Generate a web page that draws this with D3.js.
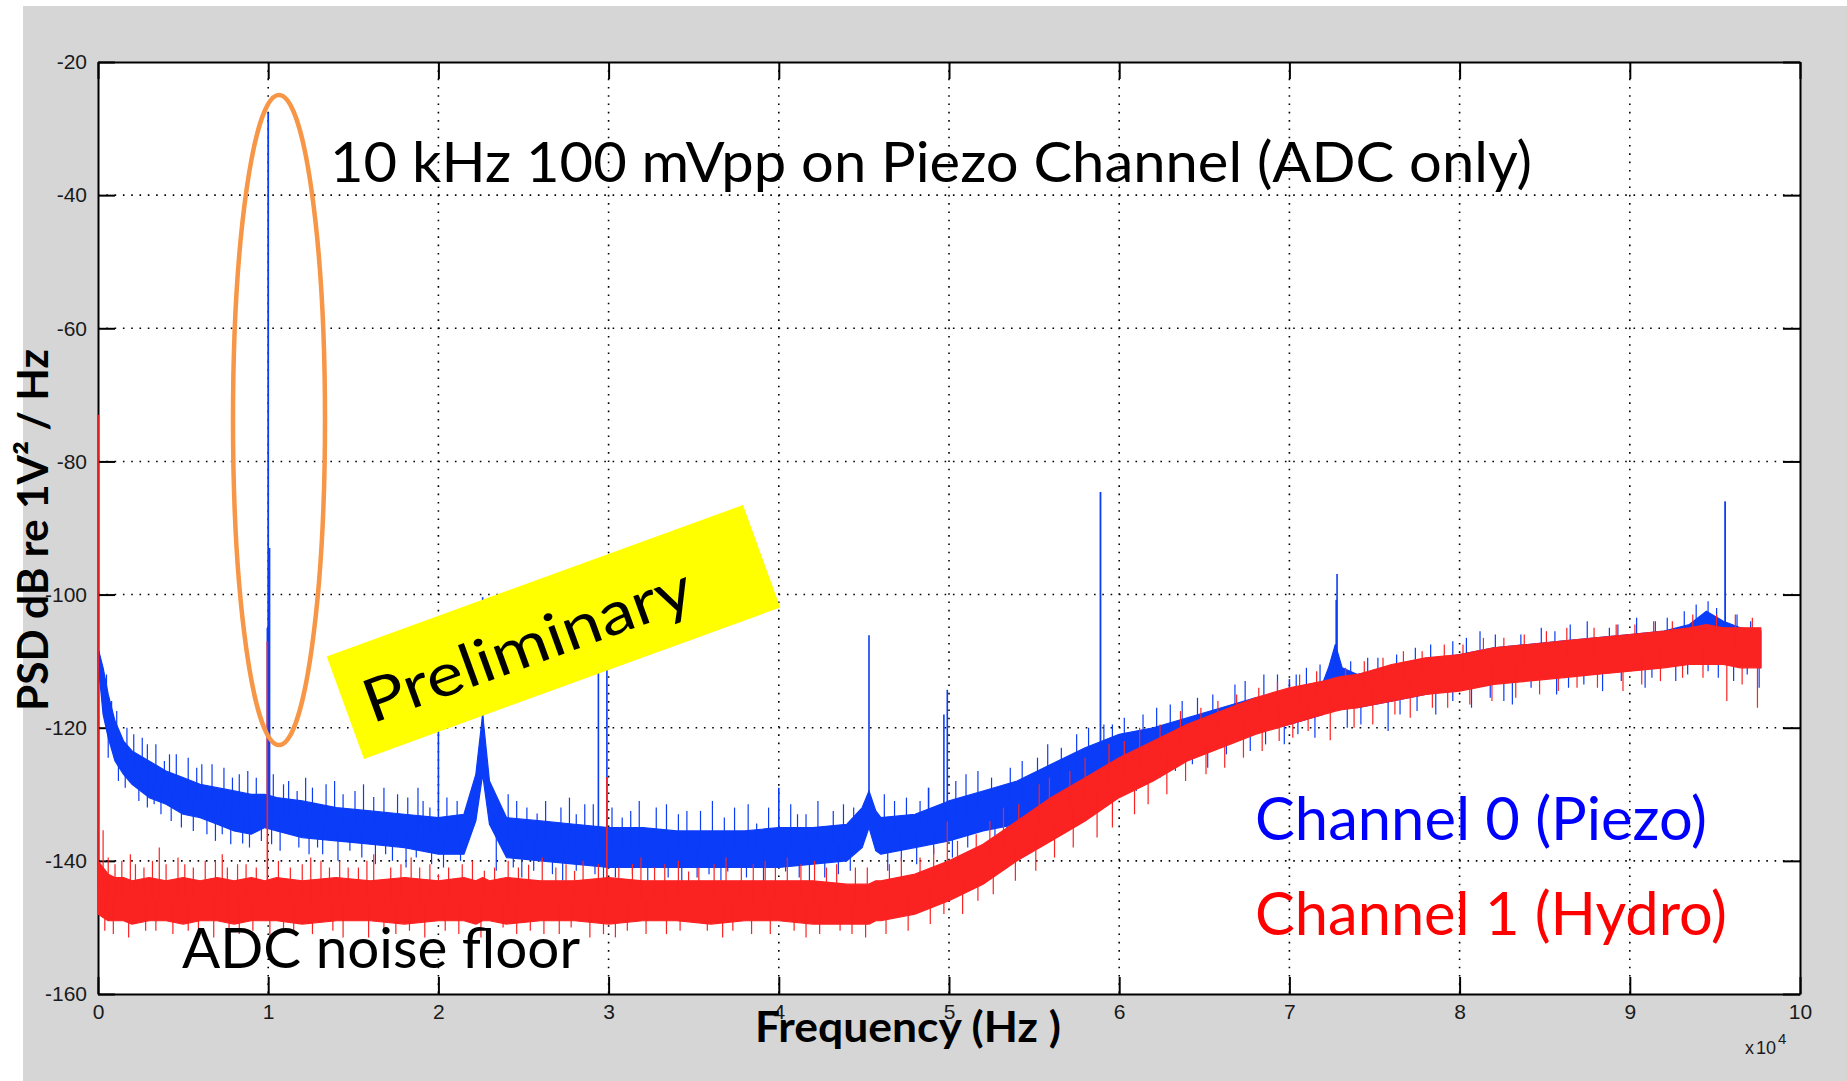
<!DOCTYPE html>
<html>
<head>
<meta charset="utf-8">
<script src="https://cdn.jsdelivr.net/npm/d3@7"></script>
<style>
  html, body { margin: 0; padding: 0; background: #ffffff; }
  svg { display: block; }
</style>
</head>
<body>
<svg id="chart" width="1847" height="1081"></svg>
<script>
// Frequency grid (kHz) on which the dense noise band of each channel is described
const freqKHz = [0, 0.3, 0.6, 1, 1.5, 2, 3, 4, 5, 6, 7, 8, 9, 9.8, 10.5, 12, 14, 16, 18, 20,
  21.5, 22.2, 22.6, 23, 24, 26, 28, 30, 32, 34, 36, 38, 40, 42, 44, 44.9, 45.3, 45.7, 46, 48,
  50, 52, 54, 56, 58, 60, 62, 64, 66, 68, 70, 72, 72.3, 72.7, 73.1, 74, 76, 78, 80, 82,
  84, 86, 88, 90, 92, 93.5, 94.5, 95.5, 96.5, 97.7];

// Channel 0 (Piezo): top and bottom of the noise band, dB re 1V^2/Hz
const piezoUpper = [-108, -111, -115, -119, -122, -123.5, -125, -126.5, -127.5, -128.5, -129, -129.5, -130, -130, -130.5, -131, -132, -132.5, -133, -133.5,
  -133, -127, -118, -128, -133.5, -134, -134.5, -135, -135, -135.5, -135.5, -135.5, -135, -135, -134.5, -132, -129.5, -132.5, -133.5, -133,
  -131, -129.5, -128, -125.5, -123, -121, -120, -118.5, -117, -115.5, -114.5, -113, -111, -107.5, -111, -112, -111, -110, -109, -108,
  -107.5, -107, -106.5, -106, -105.5, -104.5, -102.5, -104, -105, -105.5];
const piezoLower = [-110, -118, -121.5, -125, -127, -128.5, -130.5, -131.5, -133, -133.5, -134.5, -135.5, -136, -135, -135.5, -136.5, -137, -137.5, -138, -139,
  -139, -134, -127, -134.5, -139.5, -140, -140.5, -141, -141, -141, -141, -141, -141, -140.5, -140, -138, -135, -138.5, -139, -138,
  -137, -135.5, -134.5, -133, -130, -127, -125, -123, -122, -120.5, -119.5, -118, -117, -115, -117, -117, -116, -115, -114, -113,
  -112.5, -112, -111.5, -111, -110.5, -110, -109, -109.5, -110, -111];

// Channel 1 (Hydro): top and bottom of the noise band
const hydroUpper = [-140, -141, -142, -142.5, -142.5, -143, -142.5, -143, -142.5, -143, -142.5, -143, -142.5, -143, -142.5, -143, -142.5, -143, -142.5, -143,
  -142.5, -143, -142.5, -143, -142.5, -143, -143, -142.5, -143, -143, -143, -143, -143, -143, -143.5, -143.5, -143.5, -143, -143, -142,
  -140, -137.5, -134, -130.5, -127.5, -124.5, -122, -119.5, -117.5, -115.5, -114, -113, -112.8, -112.5, -112.3, -112, -110.5, -109.5, -109, -108,
  -107.5, -107, -106.5, -106, -105.5, -105, -104.5, -105, -105, -105];
const hydroLower = [-148, -148.5, -149, -149, -149, -149.5, -149, -149, -149.5, -149, -149, -149.5, -149, -149, -149, -149.5, -149, -149, -149.5, -149,
  -149, -149.5, -149, -149, -149.5, -149, -149, -149.5, -149, -149, -149.5, -149, -149, -149.5, -149.5, -149.5, -149.5, -149, -149, -148,
  -146, -143.5, -140, -137, -134, -130.5, -128, -125, -123, -121, -119.5, -118, -117.8, -117.5, -117.3, -117, -116, -115, -114.5, -113.5,
  -113, -112.5, -112, -111.5, -111, -110.5, -110.5, -110.5, -111, -111];

// Discrete tones [kHz, peak dB]
const piezoTones = [[9.95, -105], [10.0, -27.6], [10.08, -93], [20.0, -110], [22.6, -100.4], [29.4, -108], [29.9, -108],
  [40.0, -129], [45.3, -106.1], [48.8, -129], [49.7, -118], [49.9, -114.3], [58.9, -84.6], [70.0, -112.7],
  [72.75, -100.8], [72.8, -96.9], [95.6, -86]];
const hydroTones = [[0, -73], [9.95, -107], [29.9, -127.4]];

// Noise excursions beyond the band [kHz, dB]
const piezoNoiseUp = [[0.8, -116], [1.7, -120], [2.6, -121.5], [3.4, -122.5], [4.2, -124], [5.3, -124.5], [6.1, -125.5], [7.4, -126],
  [8.3, -127], [9.3, -127.5], [11.2, -128], [12.6, -129], [13.4, -128.5], [15.1, -129.5], [16.2, -130.4], [17.6, -130], [19.1, -131],
  [24.6, -131], [25.8, -132.9], [27.2, -132], [28.6, -131.5], [31.3, -132.5], [32.8, -132], [34.1, -133], [35.4, -132.5], [36.8, -133.5],
  [38.7, -134.4], [39.4, -132], [41.6, -133], [43.2, -132.5], [46.8, -131], [51, -127], [53.6, -126], [55.2, -124.5],
  [57.5, -121], [59.6, -119.5], [61.4, -118], [63, -116.5], [66.8, -113.5], [68.5, -112], [71, -111], [75.2, -109.5], [77.4, -108],
  [79.6, -107], [81.2, -105.5], [83.6, -106], [86.5, -104.5], [89.3, -104.5], [91.5, -104], [93.9, -101.5], [94.6, -101],
  [0.5, -112], [1.1, -117.5], [2.1, -121], [2.9, -122.5], [3.9, -125], [4.6, -124], [5.8, -126], [6.7, -125.5], [7.9, -127.5],
  [8.8, -126.5], [10.3, -127], [10.9, -128.5], [11.7, -129.5], [12.2, -127.5], [13.9, -128], [14.4, -130], [15.6, -128.5], [16.8, -129],
  [18.2, -130.5], [18.8, -129], [19.5, -132], [20.5, -130.5], [21.1, -131], [23.6, -131.5], [24.1, -130], [25.2, -132], [26.3, -131],
  [27.7, -130.5], [28.1, -133], [29.1, -131.5], [30.2, -132], [30.8, -133.5], [31.8, -131], [33.4, -131.5], [34.6, -132.5], [36.1, -131],
  [37.4, -132], [38.2, -131.5], [40.7, -131.5], [41.1, -133], [42.3, -131], [43.8, -131.5], [44.4, -132], [46.2, -130], [47.5, -130.5],
  [48.3, -131], [50.4, -128], [51.7, -126.5], [52.5, -127.5], [54.3, -125], [55.8, -122.5], [56.6, -123], [58.2, -120], [59.1, -119.5],
  [60.3, -118.5], [62.2, -117], [63.7, -116], [64.6, -115.5], [65.5, -115], [67.4, -113], [69.3, -112], [70.4, -112], [71.8, -110.5],
  [73.6, -110], [74.6, -109.5], [76.3, -109], [78.3, -107.5], [80.4, -106.5], [82.1, -106], [84.8, -105], [85.6, -105.5], [87.5, -104],
  [88.8, -105], [90.4, -103.5], [92.2, -103.5], [93.2, -102.5], [95.1, -102], [96.3, -103], [97.1, -104]];
const piezoNoiseDown = [[1.2, -128], [2.4, -131], [3.7, -133], [4.9, -135], [6.4, -136], [7.8, -137.5], [8.5, -137.4], [9.6, -137],
  [11.8, -138], [13.2, -139], [15.5, -139.5], [17.3, -140], [19.6, -140.5], [24.4, -141], [26.7, -142], [28.1, -141.5], [30.4, -142.5],
  [33.5, -142.5], [35.9, -142], [37, -141.6], [40.4, -141.6], [42.7, -142.5], [47.2, -140], [49.1, -139], [52.7, -137.5], [55.6, -136],
  [57.2, -133], [59.1, -132], [61.6, -128.5], [63.3, -126.5], [65.2, -126], [67.7, -123.5], [69.7, -122.5], [73.4, -120], [75.8, -120.5],
  [78.6, -118], [80.7, -117], [83.1, -116.5], [85.7, -115], [88.4, -114.5], [90.9, -114], [92.7, -113], [95.2, -112.5], [97.6, -114],
  [0.6, -124.5], [1.6, -129], [2.9, -132], [3.3, -131.5], [4.3, -134], [5.6, -135.5], [6.9, -137], [7.3, -136], [8.9, -138],
  [10.2, -137.5], [10.7, -138.5], [12.4, -139], [12.9, -138], [14.1, -140], [14.8, -138.5], [16.3, -140.5], [16.9, -139], [18.1, -141],
  [18.7, -139.5], [20.3, -141], [21.3, -140], [23.4, -141.5], [24.9, -142.5], [25.6, -141.5], [27.3, -143], [29.2, -142], [29.7, -143.5],
  [31.4, -142], [32.3, -143], [34.3, -143.5], [35.2, -142.5], [36.6, -143], [38.1, -142.5], [39.1, -143.5], [41.2, -142.5], [41.8, -143],
  [43.5, -142], [44.2, -141.5], [46.4, -141.5], [48.1, -140.5], [50.2, -139.5], [51.1, -138], [53.4, -137.5], [54.6, -136.5], [56.4, -135],
  [58.4, -132.5], [60.1, -130], [61.0, -129.5], [62.4, -127.5], [64.3, -125.5], [66.3, -124], [68.6, -122.5], [70.5, -121], [71.5, -121.5],
  [74.2, -119.5], [76.5, -118], [77.5, -117.5], [79.6, -116], [81.8, -115.5], [82.6, -116], [84.2, -114], [86.4, -114], [87.3, -113.5],
  [89.5, -113], [91.3, -112.5], [93.4, -112], [94.6, -111.5], [96.1, -113], [96.9, -112]];
const hydroNoiseUp = [[0.3, -135.4], [1.4, -140], [2.2, -140.5], [3.6, -138], [5.1, -140.5], [6.3, -140], [7.6, -141], [8.7, -140.5],
  [12, -140.5], [13.1, -140], [14.7, -141], [16.2, -139], [17.8, -140.5], [18.9, -141], [20, -142], [21.4, -140.5], [23.3, -141],
  [25.3, -140.6], [26.9, -141], [28.5, -140], [31.4, -140.5], [32.7, -141], [34.7, -141.6], [36.2, -140.5], [37.8, -141], [39.2, -140],
  [41.3, -140.5], [42.8, -141], [44.5, -141], [46.5, -140.5], [48.3, -139.5], [49.9, -134.1], [51.6, -136], [53.2, -132], [55.3, -128.5],
  [57.1, -126.5], [59.4, -122.5], [61.2, -120], [63.6, -117.5], [65.8, -116], [68.2, -114], [70.6, -112], [73.3, -111], [75.5, -109.5],
  [77.8, -108.5], [80.2, -107.5], [82.6, -106.5], [85.1, -105.5], [87.9, -105], [90.3, -104.5], [92.5, -104], [95.1, -103], [97.2, -103.5],
  [0.6, -139.5], [1.0, -140.5], [1.9, -139], [2.7, -141], [3.2, -140], [4.0, -140.5], [4.7, -139.5], [5.6, -141], [6.9, -140],
  [7.3, -139], [8.2, -140.5], [9.3, -141], [10.6, -140], [11.3, -141], [12.5, -139.5], [13.6, -141], [14.2, -140], [15.3, -141],
  [15.8, -140], [17.2, -141], [18.4, -139.5], [19.5, -140.5], [20.6, -141], [22.0, -140], [22.7, -141.5], [24.1, -140], [24.7, -141],
  [26.1, -139.5], [27.5, -140.5], [28.0, -141.5], [29.4, -140.5], [30.6, -141], [31.9, -139.5], [33.3, -140.5], [34.1, -140], [35.3, -141],
  [36.9, -139.5], [38.5, -140.5], [39.8, -141], [40.5, -139.5], [42.1, -140], [43.4, -140.5], [45.2, -141], [47.2, -139.5], [49.1, -138],
  [50.5, -137], [52.4, -134], [54.1, -131.5], [55.9, -127.5], [58.0, -124.5], [60.3, -122], [62.4, -119.5], [64.8, -117], [66.9, -115],
  [69.3, -113], [71.6, -111.5], [74.4, -110], [76.7, -108.5], [79.1, -107.5], [81.4, -106.5], [83.8, -106], [86.3, -105], [89.2, -104.5],
  [91.4, -104], [93.7, -103], [96.2, -103]];
const hydroNoiseDown = [[0.9, -151], [2.8, -150.5], [4.4, -151], [6.8, -151.5], [9.1, -150.5], [11.5, -151], [13.8, -150.5], [15.9, -151.5],
  [18.3, -150.5], [21.2, -151], [23.8, -150], [26.2, -151], [28.9, -151.5], [31.1, -150.5], [33.4, -151], [35.8, -150.5], [38.4, -151],
  [40.9, -150.5], [42.4, -151], [45.1, -151.5], [47.6, -150.5], [50.8, -148], [53.9, -143], [56.2, -139.5], [58.7, -136.5], [60.9, -133],
  [62.8, -130], [65.1, -127], [67.3, -124.5], [69.4, -122], [72.4, -121.9], [74.9, -119.5], [77.1, -118.5], [79.3, -117], [81.9, -116],
  [84.7, -115], [86.9, -114], [89.6, -114.5], [91.8, -113], [94.3, -112.5], [95.7, -116], [97.5, -117],
  [0.4, -150.5], [1.8, -151.5], [3.4, -150.5], [5.3, -150.5], [5.9, -151.5], [7.7, -150.5], [8.3, -151], [10.1, -151.5], [10.9, -150.5],
  [12.6, -151], [14.4, -151.5], [16.8, -150.5], [17.5, -151], [19.2, -151.5], [20.4, -150.5], [22.5, -151.5], [24.6, -151], [25.4, -150.5],
  [27.1, -151], [27.8, -150], [29.7, -151], [30.4, -151.5], [32.2, -151], [34.2, -150.5], [36.7, -151.5], [37.3, -150.5], [39.5, -151],
  [41.6, -151.5], [43.6, -150.5], [44.3, -151], [46.3, -151], [48.9, -149.5], [49.7, -148], [51.7, -146], [52.6, -145], [55.1, -141.5],
  [57.3, -138], [59.6, -135], [61.7, -131.5], [63.9, -128], [66.2, -126], [68.4, -123.5], [70.2, -121.5], [71.1, -120.5], [73.8, -120],
  [76.2, -118], [78.4, -117], [80.6, -116.5], [83.3, -115.5], [85.8, -114.5], [88.1, -114], [90.7, -113.5], [93.1, -112.5], [96.6, -113.5]];

// Axis ticks: frequency labels are in units of 10^4 Hz
const xTickLabels = [0, 1, 2, 3, 4, 5, 6, 7, 8, 9, 10];
const yTickValues = [-20, -40, -60, -80, -100, -120, -140, -160];

const svg = d3.select('#chart');
const W = 1847, H = 1081;
const plot = { left: 98, top: 62, right: 1800, bottom: 994 };

const x = d3.scaleLinear().domain([0, 100]).range([plot.left, plot.right]);   // kHz
const y = d3.scaleLinear().domain([-160, -20]).range([plot.bottom, plot.top]); // dB

const BLUE = '#0b3cf7', RED = '#fb2222';
const TEXT_FONT = "Lato, 'Open Sans', sans-serif";
const TICK_FONT = "'Liberation Sans', Arial, sans-serif";

// figure background
svg.append('rect').attr('x', 0).attr('y', 0).attr('width', W).attr('height', H).attr('fill', '#ffffff');
svg.append('rect').attr('x', 23).attr('y', 6).attr('width', W - 23).attr('height', H - 6).attr('fill', '#d6d6d6');
svg.append('rect').attr('x', plot.left).attr('y', plot.top)
  .attr('width', plot.right - plot.left).attr('height', plot.bottom - plot.top).attr('fill', '#ffffff');

// dotted grid
const grid = svg.append('g').attr('stroke', '#000').attr('stroke-width', 1.6).attr('stroke-dasharray', '1.6,6.7');
grid.selectAll('line.vx').data(xTickLabels.filter(v => v > 0 && v < 10)).join('line')
  .attr('x1', d => x(d * 10)).attr('x2', d => x(d * 10)).attr('y1', plot.top).attr('y2', plot.bottom);
grid.selectAll('line.hy').data(yTickValues.filter(v => v > -160 && v < -20)).join('line')
  .attr('y1', d => y(d)).attr('y2', d => y(d)).attr('x1', plot.left).attr('x2', plot.right);

// axes with inward ticks on all four sides
function styleAxis(g) {
  g.select('.domain').attr('stroke', '#000').attr('stroke-width', 2);
  g.selectAll('.tick line').attr('stroke', '#000').attr('stroke-width', 2);
  g.selectAll('.tick text').attr('font-family', TICK_FONT).attr('font-size', 21).attr('fill', '#1a1a1a');
}
const xAxisBottom = d3.axisBottom(x).tickValues(xTickLabels.map(v => v * 10))
  .tickFormat(d => String(d / 10)).tickSizeInner(-17).tickSizeOuter(0).tickPadding(10);
const xAxisTop = d3.axisTop(x).tickValues(xTickLabels.map(v => v * 10))
  .tickFormat('').tickSizeInner(-17).tickSizeOuter(0);
const yAxisLeft = d3.axisLeft(y).tickValues(yTickValues)
  .tickFormat(d => String(d)).tickSizeInner(-17).tickSizeOuter(0).tickPadding(11);
const yAxisRight = d3.axisRight(y).tickValues(yTickValues)
  .tickFormat('').tickSizeInner(-17).tickSizeOuter(0);

svg.append('g').attr('transform', `translate(0,${plot.bottom})`).call(xAxisBottom).call(styleAxis);
svg.append('g').attr('transform', `translate(0,${plot.top})`).call(xAxisTop).call(styleAxis);
svg.append('g').attr('transform', `translate(${plot.left},0)`).call(yAxisLeft).call(styleAxis);
svg.append('g').attr('transform', `translate(${plot.right},0)`).call(yAxisRight).call(styleAxis);

// spectra
svg.append('defs').append('clipPath').attr('id', 'plotClip').append('rect')
  .attr('x', plot.left - 2).attr('y', plot.top).attr('width', plot.right - plot.left + 2).attr('height', plot.bottom - plot.top);
const dataLayer = svg.append('g').attr('clip-path', 'url(#plotClip)');

function drawChannel(upper, lower, tones, noiseUp, noiseDown, color) {
  const rows = freqKHz.map((f, i) => ({ f, hi: upper[i], lo: lower[i] }));
  const mid = d3.scaleLinear().domain(freqKHz).range(rows.map(r => (r.hi + r.lo) / 2));
  const g = dataLayer.append('g');
  g.append('path').datum(rows)
    .attr('d', d3.area().x(d => x(d.f)).y0(d => y(d.lo)).y1(d => y(d.hi)))
    .attr('fill', color).attr('stroke', color).attr('stroke-width', 1.2).attr('stroke-linejoin', 'round');
  const spikes = [...noiseUp, ...noiseDown];
  g.selectAll('line.noise').data(spikes).join('line')
    .attr('x1', d => x(d[0])).attr('x2', d => x(d[0]))
    .attr('y1', d => y(d[1])).attr('y2', d => y(mid(d[0])))
    .attr('stroke', color).attr('stroke-width', 1.2);
  g.selectAll('line.tone').data(tones).join('line')
    .attr('x1', d => x(d[0])).attr('x2', d => x(d[0]))
    .attr('y1', d => y(d[1])).attr('y2', d => y(mid(d[0])))
    .attr('stroke', color).attr('stroke-width', d => d[1] > -90 ? 1.8 : 1.6);
}
drawChannel(piezoUpper, piezoLower, piezoTones, piezoNoiseUp, piezoNoiseDown, BLUE);
drawChannel(hydroUpper, hydroLower, hydroTones, hydroNoiseUp, hydroNoiseDown, RED);

// axis titles
svg.append('text').attr('transform', 'translate(48,530) rotate(-90)')
  .attr('text-anchor', 'middle').attr('font-family', TEXT_FONT).attr('font-weight', 700)
  .attr('font-size', 42).attr('fill', '#000').attr('textLength', 362).attr('lengthAdjust', 'spacingAndGlyphs')
  .text('PSD dB re 1V² / Hz');
svg.append('text').attr('x', 908).attr('y', 1042)
  .attr('text-anchor', 'middle').attr('font-family', TEXT_FONT).attr('font-weight', 700)
  .attr('font-size', 42).attr('fill', '#000').attr('textLength', 306).attr('lengthAdjust', 'spacingAndGlyphs')
  .text('Frequency (Hz )');

// exponent of the frequency axis
const expo = svg.append('text').attr('x', 1745).attr('y', 1054)
  .attr('font-family', TICK_FONT).attr('font-size', 18).attr('fill', '#1a1a1a');
expo.append('tspan').text('x');
expo.append('tspan').attr('dx', 2).text('10');
expo.append('tspan').attr('font-size', 15).attr('dx', 2).attr('dy', -10).text('4');

// annotations
svg.append('ellipse').attr('cx', 279).attr('cy', 420).attr('rx', 46).attr('ry', 325)
  .attr('fill', 'none').attr('stroke', '#f79646').attr('stroke-width', 4.5);

svg.append('text').attr('x', 330).attr('y', 182)
  .attr('font-family', TEXT_FONT).attr('font-size', 57).attr('fill', '#000')
  .attr('textLength', 1202).attr('lengthAdjust', 'spacingAndGlyphs')
  .text('10 kHz 100 mVpp on Piezo Channel (ADC only)');

const stamp = svg.append('g').attr('transform', 'translate(553.5,632) rotate(-20)');
stamp.append('rect').attr('x', -221.5).attr('y', -54.5).attr('width', 443).attr('height', 109).attr('fill', '#ffff00');
stamp.append('text').attr('x', -202).attr('y', 24)
  .attr('font-family', TEXT_FONT).attr('font-size', 60).attr('fill', '#000')
  .attr('textLength', 346).attr('lengthAdjust', 'spacingAndGlyphs')
  .text('Preliminary');

svg.append('text').attr('x', 182).attr('y', 968)
  .attr('font-family', TEXT_FONT).attr('font-size', 56).attr('fill', '#000')
  .attr('textLength', 398).attr('lengthAdjust', 'spacingAndGlyphs')
  .text('ADC noise floor');

svg.append('text').attr('x', 1255).attr('y', 840)
  .attr('font-family', TEXT_FONT).attr('font-size', 60).attr('fill', '#0000ff')
  .attr('textLength', 452).attr('lengthAdjust', 'spacingAndGlyphs')
  .text('Channel 0 (Piezo)');
svg.append('text').attr('x', 1255).attr('y', 935)
  .attr('font-family', TEXT_FONT).attr('font-size', 60).attr('fill', '#ff0000')
  .attr('textLength', 472).attr('lengthAdjust', 'spacingAndGlyphs')
  .text('Channel 1 (Hydro)');
</script>
</body>
</html>
